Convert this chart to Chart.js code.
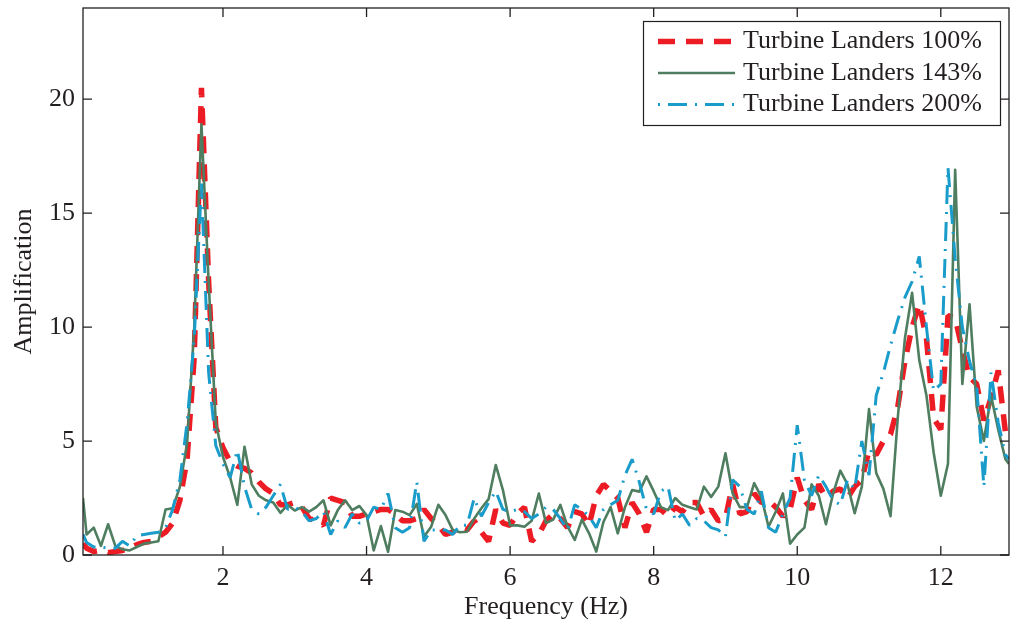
<!DOCTYPE html>
<html>
<head>
<meta charset="utf-8">
<title>Turbine Landers amplification</title>
<script src="https://cdn.jsdelivr.net/npm/chart.js@4.4.1/dist/chart.umd.min.js"></script>
<style>
    html, body { margin: 0; padding: 0; background: #fff; }
    #wrap { width: 1010px; height: 629px; }
</style>
</head>
<body>
<div id="wrap"><canvas id="chart" width="1010" height="629"></canvas></div>
<script>
// Frequency grid (Hz)
const freq = [
    0.05, 0.1, 0.2, 0.3, 0.4, 0.5, 0.6, 0.7, 0.8, 0.9,
    1.0, 1.1, 1.2, 1.3, 1.4, 1.5, 1.6, 1.7, 1.8, 1.9,
    2.0, 2.1, 2.2, 2.3, 2.4, 2.5, 2.6, 2.7, 2.8, 2.9,
    3.0, 3.1, 3.2, 3.3, 3.4, 3.5, 3.6, 3.7, 3.8, 3.9,
    4.0, 4.1, 4.2, 4.3, 4.4, 4.5, 4.6, 4.7, 4.8, 4.9,
    5.0, 5.1, 5.2, 5.3, 5.4, 5.5, 5.6, 5.7, 5.8, 5.9,
    6.0, 6.1, 6.2, 6.3, 6.4, 6.5, 6.6, 6.7, 6.8, 6.9,
    7.0, 7.1, 7.2, 7.3, 7.4, 7.5, 7.6, 7.7, 7.8, 7.9,
    8.0, 8.1, 8.2, 8.3, 8.4, 8.5, 8.6, 8.7, 8.8, 8.9,
    9.0, 9.1, 9.2, 9.3, 9.4, 9.5, 9.6, 9.7, 9.8, 9.9,
    10.0, 10.1, 10.2, 10.3, 10.4, 10.5, 10.6, 10.7, 10.8, 10.9,
    11.0, 11.1, 11.2, 11.3, 11.4, 11.5, 11.6, 11.7, 11.8, 11.9,
    12.0, 12.1, 12.2, 12.3, 12.4, 12.5, 12.6, 12.7, 12.8, 12.9, 12.95
];

// Amplification, Turbine Landers 100%
const landers100 = [
    0.5, 0.3, 0.15, 0.2, 0.1, 0.15, 0.2, 0.3, 0.45, 0.55,
    0.6, 0.8, 1.0, 1.4, 2.4, 4.2, 8.7, 20.5, 12.0, 5.6,
    4.7, 4.1, 3.9, 3.8, 3.6, 3.2, 2.9, 2.7, 2.2, 2.2,
    2.3, 2.1, 1.6, 1.5, 1.3, 2.5, 2.4, 2.3, 1.7, 1.7,
    1.8, 1.9, 2.0, 2.0, 1.8, 1.5, 1.5, 1.6, 2.0, 1.6,
    1.3, 0.9, 1.0, 1.2, 1.1, 1.5, 1.0, 0.6, 2.0, 1.4,
    1.3, 1.8, 2.1, 0.6, 0.9, 1.5, 1.8, 1.6, 1.2, 1.9,
    1.8, 1.3, 2.6, 3.1, 2.8, 2.5, 1.2, 2.3, 1.8, 1.0,
    2.0, 2.0, 1.7, 2.1, 1.9, 2.3, 2.3, 1.7, 2.0, 1.5,
    1.6, 3.1, 1.8, 1.9, 2.7, 2.3, 2.4, 2.1, 1.7, 2.0,
    3.4, 2.4, 2.0, 3.1, 2.5, 2.8, 2.9, 2.5, 3.0, 3.3,
    4.6, 4.4, 5.0, 5.3, 6.5, 8.5, 10.0, 11.0, 9.5, 6.0,
    5.5, 10.5, 10.4, 9.0, 7.8, 7.5, 5.9, 6.9, 8.1, 5.4, 5.0
];

// Amplification, Turbine Landers 143%
const landers143 = [
    2.5, 0.9, 1.2, 0.4, 1.35, 0.4, 0.25, 0.2, 0.35, 0.5,
    0.55, 0.6, 2.0, 2.05, 3.0, 4.9, 10.0, 18.9, 12.0, 5.8,
    4.3, 3.4, 2.2, 4.75, 3.1, 2.6, 2.4, 2.3, 1.85, 2.2,
    1.95, 2.1, 1.9, 2.1, 2.4, 1.3, 1.97, 2.4, 1.97, 2.15,
    1.75, 0.2, 1.27, 0.14, 1.97, 1.9, 1.75, 2.24, 0.8, 1.24,
    2.2, 1.75, 1.1, 1.0, 1.02, 1.6, 2.05, 2.45, 3.95, 2.85,
    1.3, 1.3, 1.24, 1.5, 2.7, 1.4, 1.55, 2.2, 1.25, 0.66,
    1.55, 0.95, 0.15, 1.45, 2.1, 0.95, 2.1, 2.85, 2.78, 3.45,
    2.8, 2.1, 1.97, 2.5, 2.2, 2.1, 2.0, 3.0, 2.55, 3.0,
    4.46, 2.7, 2.1, 2.1, 3.15, 2.55, 1.24, 1.9, 2.7, 0.5,
    0.9, 1.2, 3.1, 2.6, 1.35, 2.7, 3.7, 3.1, 1.83, 3.0,
    6.4, 3.6, 2.9, 1.7, 6.0, 9.5, 11.5, 8.55, 7.0, 4.5,
    2.6, 4.0, 16.9, 7.5, 11.0, 6.5, 5.0, 7.0, 5.5, 4.2, 4.0
];

// Amplification, Turbine Landers 200%
const landers200 = [
    0.9, 0.55, 0.35, 0.35, 0.3, 0.3, 0.6, 0.4, 0.85, 0.9,
    0.95, 1.0, 1.2, 2.0, 3.3, 5.8, 9.5, 16.3, 8.0, 4.8,
    4.0, 3.4, 4.6, 3.0, 2.0, 1.8, 2.1, 2.6, 3.1, 2.0,
    2.1, 1.9, 1.5, 1.6, 1.9, 0.9, 1.5, 1.2, 1.8, 1.4,
    1.5, 2.1, 2.0, 2.7, 1.2, 1.0, 1.2, 3.2, 0.6, 1.1,
    1.1, 1.1, 0.9, 1.3, 1.3, 2.5, 1.7, 2.3, 2.8, 2.0,
    1.9, 2.0, 1.9, 1.6, 1.8, 2.1, 2.0, 1.6, 1.1, 2.2,
    2.0, 1.7, 1.2, 2.0, 2.2, 2.4, 3.5, 4.2, 3.2, 2.0,
    1.8, 2.8, 3.0, 1.5, 1.8, 1.3, 1.6, 1.5, 1.2, 1.1,
    0.8, 3.3, 3.0, 2.0, 1.8, 2.8, 1.2, 1.0, 1.8, 2.5,
    5.7, 3.3, 2.6, 3.5, 3.0, 2.4, 2.2, 3.3, 2.9, 5.0,
    3.5, 7.0, 8.0, 9.2, 10.3, 11.3, 12.0, 13.1, 10.0, 7.2,
    7.5, 17.0, 13.0, 10.0, 8.5, 7.4, 3.0, 8.0, 5.8, 4.4, 4.2
];

const seriesNames = ['Turbine Landers 100%', 'Turbine Landers 143%', 'Turbine Landers 200%'];
const xTicks = [2, 4, 6, 8, 10, 12];
const yTicks = [0, 5, 10, 15, 20];

const INK = '#231f20';
const serif = { family: '"Liberation Serif", "Times New Roman", serif', size: 26 };

const toPoints = (values) => values.map((v, i) => ({ x: freq[i], y: v }));

// No extra room for half tick labels at the ends of the axes
const noEdgePadding = (s) => {
    s.paddingTop = 0;
    s.paddingBottom = 0;
    s.paddingLeft = 0;
    s.paddingRight = 0;
};

// MATLAB-style box with inward ticks + legend box in the top right
const framePlugin = {
    id: 'frame',
    afterDatasetsDraw(chart) {
        const { ctx, chartArea: a, scales: { x, y } } = chart;
        const tick = 9;
        ctx.save();
        ctx.strokeStyle = INK;
        ctx.lineWidth = 1.3;
        ctx.strokeRect(a.left, a.top, a.right - a.left, a.bottom - a.top);
        ctx.beginPath();
        xTicks.forEach(v => {
            const px = x.getPixelForValue(v);
            ctx.moveTo(px, a.bottom); ctx.lineTo(px, a.bottom - tick);
            ctx.moveTo(px, a.top); ctx.lineTo(px, a.top + tick);
        });
        yTicks.forEach(v => {
            const py = y.getPixelForValue(v);
            ctx.moveTo(a.left, py); ctx.lineTo(a.left + tick, py);
            ctx.moveTo(a.right, py); ctx.lineTo(a.right - tick, py);
        });
        ctx.stroke();

        // Legend
        const box = { left: 643.5, top: 21.5, width: 357, height: 104 };
        ctx.fillStyle = '#fff';
        ctx.fillRect(box.left, box.top, box.width, box.height);
        ctx.lineWidth = 1.2;
        ctx.strokeRect(box.left, box.top, box.width, box.height);

        const rows = [41.5, 73, 104.5];
        chart.data.datasets.forEach((ds, i) => {
            const ry = rows[i];
            ctx.save();
            ctx.strokeStyle = ds.borderColor;
            ctx.lineWidth = ds.borderWidth;
            ctx.lineCap = 'butt';
            ctx.setLineDash(ds.borderDash || []);
            ctx.lineDashOffset = ds.legendDashOffset || 0;
            ctx.beginPath();
            ctx.moveTo(658, ry);
            ctx.lineTo(735, ry);
            ctx.stroke();
            ctx.restore();

            ctx.fillStyle = INK;
            ctx.font = `${serif.size}px ${serif.family}`;
            ctx.textAlign = 'left';
            ctx.textBaseline = 'middle';
            ctx.fillText(ds.label, 743, ry);
        });
        ctx.restore();
    }
};

const ctx = document.getElementById('chart').getContext('2d');

new Chart(ctx, {
    type: 'line',
    data: {
        datasets: [
            {
                label: seriesNames[0],
                data: toPoints(landers100),
                borderColor: '#ed1c24',
                borderWidth: 5.5,
                borderDash: [17, 11],
                borderCapStyle: 'butt',
                borderJoinStyle: 'bevel',
                order: 3
            },
            {
                label: seriesNames[1],
                data: toPoints(landers143),
                borderColor: '#4e7d5f',
                borderWidth: 2.6,
                borderJoinStyle: 'round',
                order: 2
            },
            {
                label: seriesNames[2],
                data: toPoints(landers200),
                borderColor: '#1a9ccb',
                borderWidth: 3,
                borderDash: [19, 8, 2, 8],
                legendDashOffset: 27,
                borderCapStyle: 'butt',
                borderJoinStyle: 'bevel',
                order: 1
            }
        ]
    },
    options: {
        responsive: false,
        devicePixelRatio: 1,
        animation: false,
        parsing: false,
        normalized: true,
        elements: {
            point: { radius: 0, hoverRadius: 0 },
            line: { tension: 0, fill: false }
        },
        layout: { padding: { top: 8, right: 1, left: 0, bottom: 0 } },
        plugins: {
            legend: { display: false },
            tooltip: { enabled: false }
        },
        scales: {
            x: {
                type: 'linear',
                min: 0.05,
                max: 12.95,
                grid: { display: false, drawTicks: false },
                border: { display: false },
                afterBuildTicks: (s) => { s.ticks = xTicks.map(v => ({ value: v })); },
                afterFit: (s) => { s.height = 74; noEdgePadding(s); },
                ticks: { padding: 8, font: serif, color: INK, maxRotation: 0, autoSkip: false },
                title: {
                    display: true,
                    text: 'Frequency (Hz)',
                    font: serif,
                    color: INK,
                    padding: { top: 0, bottom: 6 }
                }
            },
            y: {
                type: 'linear',
                min: 0,
                max: 24,
                grid: { display: false, drawTicks: false },
                border: { display: false },
                afterBuildTicks: (s) => { s.ticks = yTicks.map(v => ({ value: v })); },
                afterFit: (s) => { s.width = 83; noEdgePadding(s); },
                ticks: { padding: 8, font: serif, color: INK },
                title: {
                    display: true,
                    text: 'Amplification',
                    font: serif,
                    color: INK,
                    padding: { top: 9, bottom: 0 }
                }
            }
        }
    },
    plugins: [framePlugin]
});
</script>
</body>
</html>
